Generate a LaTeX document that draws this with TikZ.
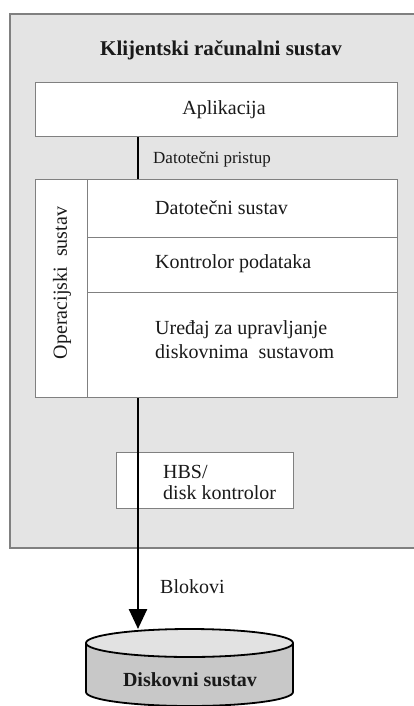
\documentclass[tikz,border=0pt]{standalone}
\usepackage{fontspec}
\setmainfont{Liberation Serif}
\usetikzlibrary{arrows.meta}
\definecolor{panel}{RGB}{228,228,228}
\definecolor{rim}{RGB}{128,128,128}
\definecolor{diskside}{RGB}{200,200,200}
\definecolor{disktop}{RGB}{226,226,226}
\definecolor{ink}{RGB}{25,25,25}
\begin{document}
\begin{tikzpicture}[x=1pt,y=-1pt,
  cell/.style={draw=rim, line width=1.4pt, fill=white, inner sep=0pt, anchor=north west},
  label/.style={text=ink, font=\fontsize{20}{24}\selectfont, inner sep=0pt},
  bus/.style={draw=black, line width=2.6pt}]
\useasboundingbox (0,0) rectangle (414,706);
\clip (0,0) rectangle (414,706);

% client computer frame (runs off the right edge)
\node[draw=rim, fill=panel, line width=1.6pt, minimum width=425pt, minimum height=534pt,
      inner sep=0pt, anchor=north west] (client) at (9,13) {};
\node[label, font=\bfseries\fontsize{21}{24}\selectfont] (title) at (221,50) {Klijentski računalni sustav};

% application layer
\node[cell, minimum width=362pt, minimum height=54pt] (app) at (35,82) {};
\node[label] (applbl) at (224,110) {Aplikacija};

% operating system block
\node[cell, minimum width=362pt, minimum height=218pt] (os) at (35,179) {};
\node[cell, minimum width=52pt, minimum height=218pt] (oscol) at (35,179) {};
\node[label, rotate=90] (oslbl) at (62,283) {Operacijski\ \ sustav};
\node[cell, minimum width=310pt, minimum height=58pt] (fs) at (87,179) {};
\node[cell, minimum width=310pt, minimum height=55pt] (ctl) at (87,237) {};
\node[cell, minimum width=310pt, minimum height=105pt] (vol) at (87,292) {};
\node[label, anchor=west] (fslbl) at (155,208) {Datotečni sustav};
\node[label, anchor=west] (ctllbl) at (155,264) {Kontrolor podataka};
\node[label, anchor=west, align=left] (vollbl) at (155,340) {Uređaj za upravljanje\\diskovnima\ \ sustavom};

% host bus adapter
\node[cell, minimum width=177pt, minimum height=56pt] (hbs) at (116,452) {};
\node[label, anchor=west, align=left, font=\fontsize{20}{21}\selectfont] (hbslbl) at (163,482) {HBS/\\disk kontrolor};

% disk system cylinder
\fill[diskside] (86,643) -- (86,692) arc[start angle=180, end angle=0, x radius=103.5, y radius=14] -- (293,643) -- cycle;
\draw[line width=1.8pt] (86,643) -- (86,692) arc[start angle=180, end angle=0, x radius=103.5, y radius=14] -- (293,643);
\draw[line width=1.8pt, fill=disktop] (189.5,643) ellipse[x radius=103.5, y radius=14];
\node[label, font=\bfseries\fontsize{20}{24}\selectfont] (disk) at (190,680) {Diskovni sustav};
\coordinate (disktopc) at (138,629);

% data path
\coordinate (tap) at (138,0);
\draw[bus] (app.south -| tap) -- (os.north -| tap);
\node[label, anchor=west, font=\fontsize{17}{20}\selectfont] (access) at (153,159) {Datotečni pristup};
\draw[bus, -{Triangle[width=18pt,length=20pt]}] (os.south -| tap) -- (disktopc);
\node[label, anchor=west] (blocks) at (160,587) {Blokovi};
\end{tikzpicture}
\end{document}
